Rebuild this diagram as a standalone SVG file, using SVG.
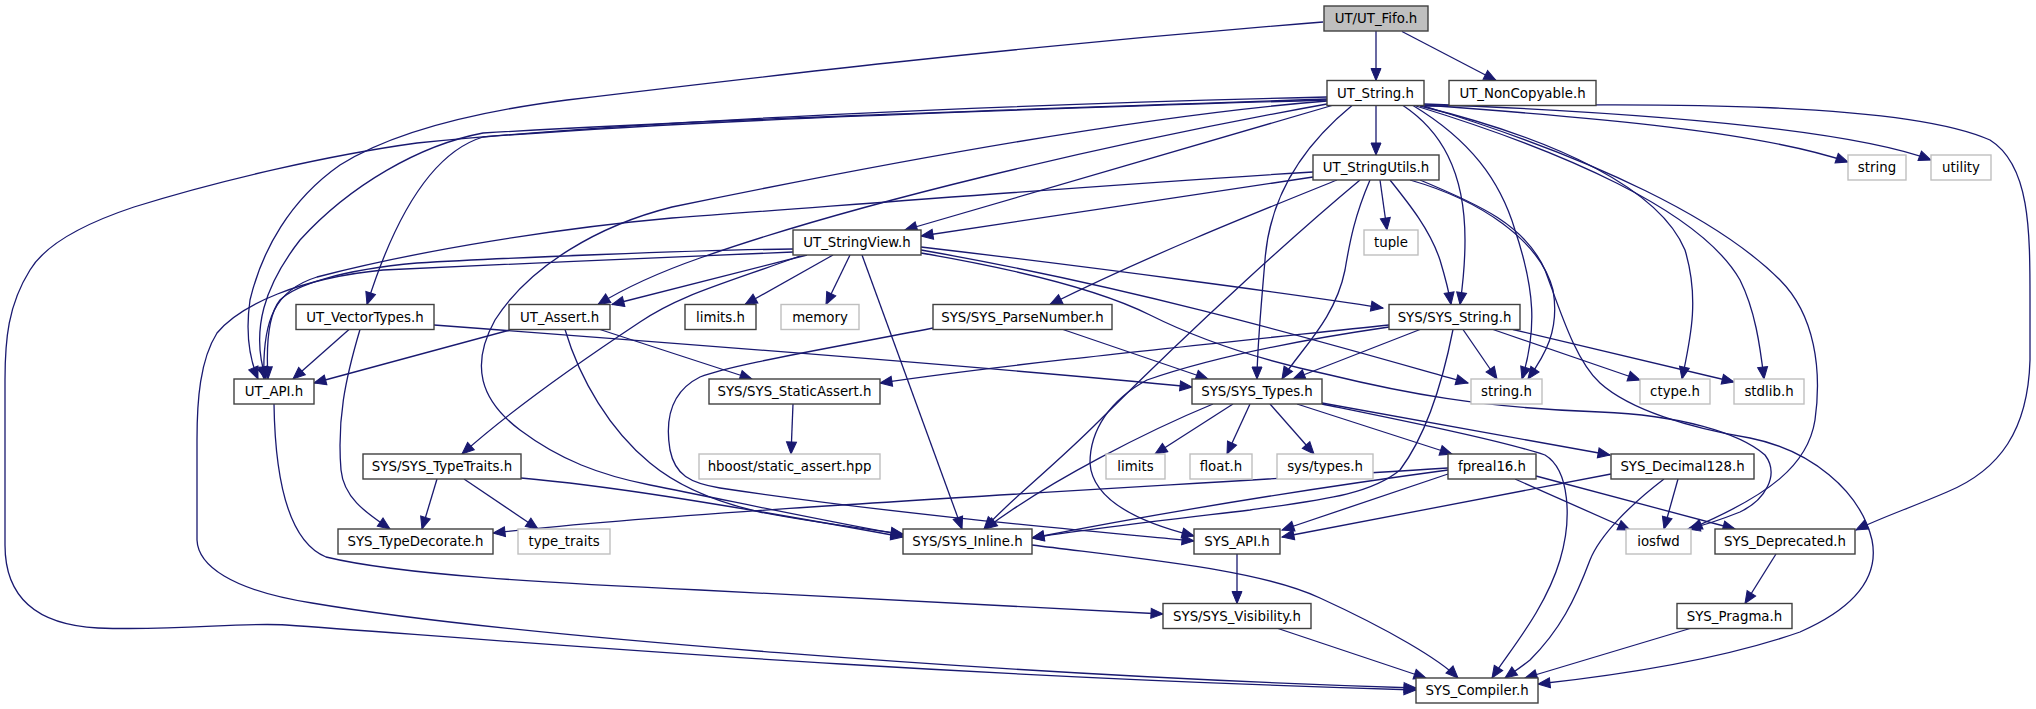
<svg xmlns="http://www.w3.org/2000/svg" width="2036" height="709" viewBox="0 0 2036 709">
<defs>
<marker id="ah" markerUnits="userSpaceOnUse" markerWidth="13" markerHeight="11" refX="12" refY="5" orient="auto" overflow="visible"><path d="M0,0 L12,5 L0,10 z" fill="#191970" stroke="#191970" stroke-width="1"/></marker>
<style>
.e path{fill:none;stroke:#191970;stroke-width:1.3;marker-end:url(#ah)}
.n rect{fill:#fff;stroke:#404040;stroke-width:1.4}
.x rect{fill:#fff;stroke:#bfbfbf;stroke-width:1.4}
.r rect{fill:#bfbfbf;stroke:#404040;stroke-width:1.4}
text{font-family:"DejaVu Sans",sans-serif;font-size:13.33px;fill:#000;text-anchor:middle}
</style>
</defs>
<rect width="2036" height="709" fill="#fff"/>
<g id="edges" class="e">
<path d="M1376,31 L1376,80.5"/>
<path d="M1402,31.5 L1496,80.5"/>
<path d="M1323,22 C1000,48 750,78 567,100 C450,115 380,140 340,165 C290,200 262,250 250,300 C245,335 250,360 258,379"/>
<path d="M1327,97 C1000,105 650,120 417,143 C330,155 220,180 134,207 C80,225 45,245 30,270 C8,305 5,340 5,380 L5,545 C5,600 40,625 98,628 C180,631 240,622 286,625 C500,640 900,675 1416,690"/>
<path d="M1327,99 C1000,110 700,120 483,133 C420,145 350,185 300,240 C265,285 250,330 266,379"/>
<path d="M1327,100 C1000,110 700,120 483,137 C440,150 400,200 367,304.5"/>
<path d="M1327,101 C1150,115 900,160 672,207 C600,225 530,265 495,320 C470,365 480,400 520,430 C560,460 600,475 650,485 C750,505 830,522 903,535"/>
<path d="M1327,104 C1100,145 850,205 700,258 C660,272 625,288 598,304.5"/>
<path d="M1332,105.5 L905,230"/>
<path d="M1376,105.5 L1376,155"/>
<path d="M1352,105.5 C1310,140 1270,190 1265,260 C1260,320 1257,350 1257,379"/>
<path d="M1403,105.5 C1440,130 1465,170 1465,240 C1465,270 1462,290 1460,304.5"/>
<path d="M1413,105.5 C1470,140 1500,180 1515,230 C1535,290 1537,330 1522,379"/>
<path d="M1420,106 C1560,140 1660,190 1685,250 C1700,300 1690,340 1682,379"/>
<path d="M1416,106 C1560,150 1700,210 1740,280 C1755,310 1760,345 1764,379"/>
<path d="M1424,106 C1600,160 1720,220 1780,280 C1815,315 1822,370 1815,420 C1808,465 1770,495 1690,529"/>
<path d="M1424,105 C1600,118 1760,132 1848,162"/>
<path d="M1424,104 C1650,113 1850,130 1931,160"/>
<path d="M1424,106 C1650,104 1900,100 1990,140 C2030,165 2030,230 2030,300 L2030,360 C2028,430 2000,470 1947,492 C1910,508 1880,518 1856,530"/>
<path d="M1313,177 L921,236"/>
<path d="M1313,172 C1100,185 850,205 672,218 C560,228 420,250 317,277 C275,290 262,320 264,379"/>
<path d="M1337,180 C1250,215 1150,255 1050,304.5"/>
<path d="M1360,180 C1300,230 1200,320 1100,420 C1050,470 1010,500 984,529"/>
<path d="M1370,180 C1355,215 1350,240 1345,270 C1335,320 1300,350 1282,379"/>
<path d="M1380,180 L1387,230"/>
<path d="M1390,180 C1410,205 1430,230 1440,260 C1446,280 1449,292 1451,304.5"/>
<path d="M1410,180 C1480,200 1540,240 1553,290 C1560,330 1545,355 1528,379"/>
<path d="M1420,180 C1480,205 1525,225 1545,270 C1560,310 1575,360 1600,383 C1630,410 1690,428 1750,438 C1810,450 1860,490 1872,540 C1880,580 1850,610 1800,632 C1720,660 1620,675 1538,684"/>
<path d="M793,249 C700,250 500,258 417,263 C340,270 295,285 280,300 C268,315 266,345 268,379"/>
<path d="M793,252 C700,255 500,265 383,270 C300,278 240,305 217,333 C200,360 197,400 197,440 L197,540 C198,565 230,590 312,603 C500,635 1000,675 1416,688"/>
<path d="M807,255 L612,304.5"/>
<path d="M800,256 C720,285 680,295 640,322 C560,375 500,420 462,454"/>
<path d="M833,255 L745,304.5"/>
<path d="M850,255 L826,304.5"/>
<path d="M862,255 L962,529"/>
<path d="M921,247 C1100,268 1300,295 1383,308"/>
<path d="M921,250 C1150,290 1350,350 1468,383"/>
<path d="M921,253 C1020,270 1100,290 1150,315 C1200,340 1260,360 1330,375 C1400,392 1480,408 1600,412 C1680,415 1740,433 1765,455 C1780,475 1765,500 1740,512 C1720,520 1705,525 1688,529"/>
<path d="M349,329.5 L293,379"/>
<path d="M360,329.5 C345,380 337,420 341,470 C344,500 370,515 390,529"/>
<path d="M434,325 C700,345 1000,368 1192,387"/>
<path d="M510,330 L314,383"/>
<path d="M600,329.5 L752,379"/>
<path d="M565,329.5 C580,380 610,430 650,463 C680,488 720,503 760,512 C810,522 860,528 903,534"/>
<path d="M1063,329.5 L1208,379"/>
<path d="M933,328 C820,350 730,365 700,377 C670,392 665,420 670,450 C675,475 690,483 720,488 C900,515 1100,532 1194,541"/>
<path d="M1389,325 C1200,345 1000,365 880,383"/>
<path d="M1389,327 C1300,340 1213,357 1147,380 C1110,400 1090,430 1090,463 C1092,497 1130,520 1194,536"/>
<path d="M1420,329.5 L1293,379"/>
<path d="M1453,329.5 C1445,370 1430,430 1400,470 C1370,495 1320,500 1250,510 C1150,522 1080,530 1032,538"/>
<path d="M1463,329.5 L1497,379"/>
<path d="M1493,329.5 L1640,380"/>
<path d="M1513,329.5 L1734,382"/>
<path d="M274,404 C275,470 285,540 326,557 C400,575 550,583 700,590 C900,600 1050,608 1163,614"/>
<path d="M793,404 L791,454"/>
<path d="M1233,404 L1155,454"/>
<path d="M1250,404 L1227,454"/>
<path d="M1270,404 L1314,454"/>
<path d="M1297,404 L1452,454"/>
<path d="M1322,403 L1610,455"/>
<path d="M1322,404 C1400,420 1500,440 1545,455 C1570,470 1572,520 1560,560 C1545,610 1510,650 1492,678"/>
<path d="M1213,404 C1150,430 1050,480 985,529"/>
<path d="M437,479 L422,529"/>
<path d="M464,479 L538,529"/>
<path d="M521,478 C600,485 700,500 903,537"/>
<path d="M1448,468 C1100,490 700,510 493,533"/>
<path d="M1448,470 C1300,490 1150,515 1032,538"/>
<path d="M1448,474 L1282,530"/>
<path d="M1515,479 L1630,530"/>
<path d="M1536,476 L1735,529"/>
<path d="M1611,474 L1282,537"/>
<path d="M1678,479 L1664,529"/>
<path d="M1664,479 C1630,505 1600,535 1590,560 C1575,600 1560,630 1530,660 C1520,668 1512,673 1505,678"/>
<path d="M1032,545 C1150,560 1260,570 1320,598 C1390,630 1440,660 1458,678"/>
<path d="M1237,554 L1237,603.5"/>
<path d="M1278,628.5 L1426,678"/>
<path d="M1776,554 L1745,603.5"/>
<path d="M1690,628.5 L1525,678"/>
</g>
<g id="UT_Fifo" class="r"><rect x="1324" y="6" width="104" height="25"/><text x="1376" y="23">UT/UT_Fifo.h</text></g>
<g id="UT_String" class="n"><rect x="1327" y="80.5" width="97" height="25"/><text x="1375.5" y="97.5">UT_String.h</text></g>
<g id="UT_NonCopyable" class="n"><rect x="1449" y="80.5" width="147" height="25"/><text x="1522.5" y="97.5">UT_NonCopyable.h</text></g>
<g id="UT_StringUtils" class="n"><rect x="1313" y="155" width="126" height="25"/><text x="1376" y="172">UT_StringUtils.h</text></g>
<g id="string" class="x"><rect x="1848" y="155" width="58" height="25"/><text x="1877" y="172">string</text></g>
<g id="utility" class="x"><rect x="1931" y="155" width="60" height="25"/><text x="1961" y="172">utility</text></g>
<g id="UT_StringView" class="n"><rect x="793" y="230" width="128" height="25"/><text x="857" y="247">UT_StringView.h</text></g>
<g id="tuple" class="x"><rect x="1364" y="230" width="54" height="25"/><text x="1391" y="247">tuple</text></g>
<g id="UT_VectorTypes" class="n"><rect x="296" y="304.5" width="138" height="25"/><text x="365" y="321.5">UT_VectorTypes.h</text></g>
<g id="UT_Assert" class="n"><rect x="509" y="304.5" width="101" height="25"/><text x="559.5" y="321.5">UT_Assert.h</text></g>
<g id="limits_h" class="n"><rect x="685" y="304.5" width="71" height="25"/><text x="720.5" y="321.5">limits.h</text></g>
<g id="memory" class="x"><rect x="781" y="304.5" width="78" height="25"/><text x="820" y="321.5">memory</text></g>
<g id="SYS_ParseNumber" class="n"><rect x="933" y="304.5" width="179" height="25"/><text x="1022.5" y="321.5">SYS/SYS_ParseNumber.h</text></g>
<g id="SYS_String" class="n"><rect x="1389" y="304.5" width="131" height="25"/><text x="1454.5" y="321.5">SYS/SYS_String.h</text></g>
<g id="UT_API" class="n"><rect x="234" y="379" width="80" height="25"/><text x="274" y="396">UT_API.h</text></g>
<g id="SYS_StaticAssert" class="n"><rect x="709" y="379" width="171" height="25"/><text x="794.5" y="396">SYS/SYS_StaticAssert.h</text></g>
<g id="SYS_Types" class="n"><rect x="1192" y="379" width="130" height="25"/><text x="1257" y="396">SYS/SYS_Types.h</text></g>
<g id="string_h" class="x"><rect x="1471" y="379" width="71" height="25"/><text x="1506.5" y="396">string.h</text></g>
<g id="ctype_h" class="x"><rect x="1640" y="379" width="70" height="25"/><text x="1675" y="396">ctype.h</text></g>
<g id="stdlib_h" class="x"><rect x="1734" y="379" width="70" height="25"/><text x="1769" y="396">stdlib.h</text></g>
<g id="SYS_TypeTraits" class="n"><rect x="363" y="454" width="158" height="25"/><text x="442" y="471">SYS/SYS_TypeTraits.h</text></g>
<g id="hboost_static_assert" class="x"><rect x="699" y="454" width="181" height="25"/><text x="789.5" y="471">hboost/static_assert.hpp</text></g>
<g id="limits" class="x"><rect x="1106" y="454" width="59" height="25"/><text x="1135.5" y="471">limits</text></g>
<g id="float_h" class="x"><rect x="1190" y="454" width="62" height="25"/><text x="1221" y="471">float.h</text></g>
<g id="sys_types_h" class="x"><rect x="1277" y="454" width="96" height="25"/><text x="1325" y="471">sys/types.h</text></g>
<g id="fpreal16" class="n"><rect x="1448" y="454" width="88" height="25"/><text x="1492" y="471">fpreal16.h</text></g>
<g id="SYS_Decimal128" class="n"><rect x="1611" y="454" width="143" height="25"/><text x="1682.5" y="471">SYS_Decimal128.h</text></g>
<g id="SYS_TypeDecorate" class="n"><rect x="338" y="529" width="155" height="25"/><text x="415.5" y="546">SYS_TypeDecorate.h</text></g>
<g id="type_traits" class="x"><rect x="518" y="529" width="92" height="25"/><text x="564" y="546">type_traits</text></g>
<g id="SYS_Inline" class="n"><rect x="903" y="529" width="129" height="25"/><text x="967.5" y="546">SYS/SYS_Inline.h</text></g>
<g id="SYS_API" class="n"><rect x="1194" y="529" width="86" height="25"/><text x="1237" y="546">SYS_API.h</text></g>
<g id="iosfwd" class="x"><rect x="1626" y="529" width="65" height="25"/><text x="1658.5" y="546">iosfwd</text></g>
<g id="SYS_Deprecated" class="n"><rect x="1715" y="529" width="140" height="25"/><text x="1785" y="546">SYS_Deprecated.h</text></g>
<g id="SYS_Visibility" class="n"><rect x="1163" y="603.5" width="148" height="25"/><text x="1237" y="620.5">SYS/SYS_Visibility.h</text></g>
<g id="SYS_Pragma" class="n"><rect x="1677" y="603.5" width="115" height="25"/><text x="1734.5" y="620.5">SYS_Pragma.h</text></g>
<g id="SYS_Compiler" class="n"><rect x="1416" y="678" width="122" height="25"/><text x="1477" y="695">SYS_Compiler.h</text></g>
</svg>
